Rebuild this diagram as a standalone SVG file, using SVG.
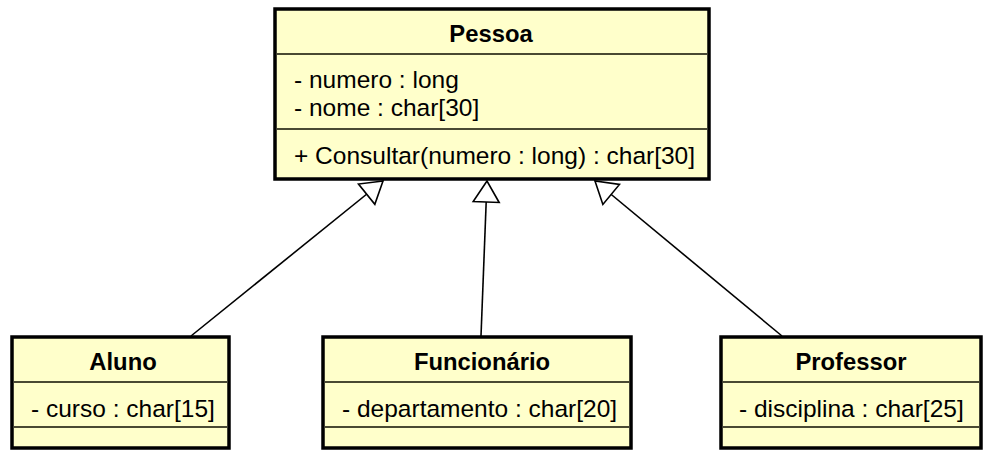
<svg xmlns="http://www.w3.org/2000/svg" width="991" height="460" viewBox="0 0 991 460">
<style>
.box{fill:#FFFFCB;stroke:#000;stroke-width:3.5}
.div{stroke:#4a4a33;stroke-width:1.8}
.t{font-family:"Liberation Sans",Arial,sans-serif;font-size:23.8px;font-weight:bold;fill:#000;text-anchor:middle}
.a{font-family:"Liberation Sans",Arial,sans-serif;font-size:24.5px;fill:#000}
.c{stroke:#000;stroke-width:1.6;fill:none;marker-end:url(#gen)}
</style>
<defs>
<marker id="gen" markerUnits="userSpaceOnUse" markerWidth="30" markerHeight="30" viewBox="-24 -15 26 30" refX="0" refY="0" orient="auto">
<path d="M0,0 L-21,-13 L-21,13 Z" fill="#fff" stroke="#000" stroke-width="1.6"/>
</marker>
</defs>
<rect width="991" height="460" fill="#fff"/>
<g id="connectors">
<line class="c" x1="191" y1="336" x2="383" y2="181"/>
<line class="c" x1="481" y1="336" x2="487" y2="181"/>
<line class="c" x1="782" y1="336" x2="595" y2="181"/>
</g>
<g id="Pessoa">
<rect class="box" x="275" y="9" width="434" height="170"/>
<line class="div" x1="277" y1="54" x2="707" y2="54"/>
<line class="div" x1="277" y1="129" x2="707" y2="129"/>
<text class="t" x="491" y="42">Pessoa</text>
<text class="a" x="294" y="88">- numero : long</text>
<text class="a" x="294" y="116">- nome : char[30]</text>
<text class="a" x="294" y="164">+ Consultar(numero : long) : char[30]</text>
</g>
<g id="Aluno">
<rect class="box" x="12" y="337" width="217" height="111"/>
<line class="div" x1="14" y1="382" x2="227" y2="382"/>
<line class="div" x1="14" y1="427" x2="227" y2="427"/>
<text class="t" x="123" y="370">Aluno</text>
<text class="a" x="31" y="417">- curso : char[15]</text>
</g>
<g id="Funcionario">
<rect class="box" x="323" y="337" width="308" height="111"/>
<line class="div" x1="325" y1="382" x2="629" y2="382"/>
<line class="div" x1="325" y1="427" x2="629" y2="427"/>
<text class="t" x="482" y="370">Funcionário</text>
<text class="a" x="342" y="417">- departamento : char[20]</text>
</g>
<g id="Professor">
<rect class="box" x="721" y="337" width="260" height="111"/>
<line class="div" x1="723" y1="382" x2="979" y2="382"/>
<line class="div" x1="723" y1="427" x2="979" y2="427"/>
<text class="t" x="851" y="370">Professor</text>
<text class="a" x="739" y="417">- disciplina : char[25]</text>
</g>
</svg>
